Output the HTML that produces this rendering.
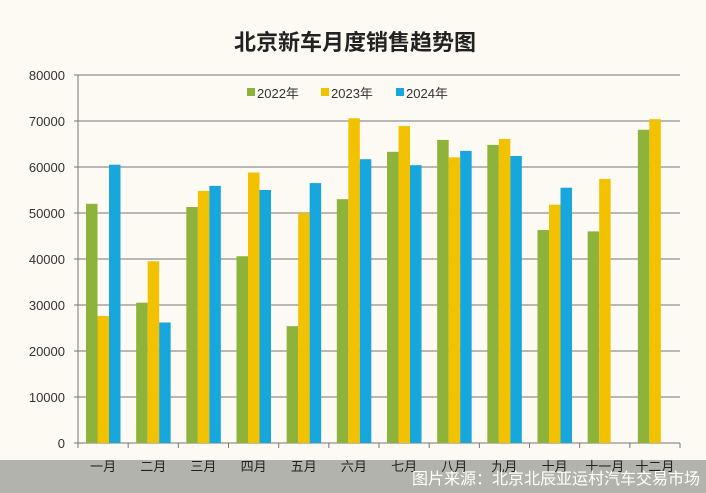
<!DOCTYPE html>
<html><head><meta charset="utf-8"><style>
html,body{margin:0;padding:0;background:#fcfaf3;}
svg{display:block;font-family:"Liberation Sans","Noto Sans CJK SC",sans-serif;}
</style></head><body>
<svg id="chart" width="706" height="493">
<rect x="0" y="0" width="706" height="493" fill="#fcfaf3"/>
<text x="355" y="50" text-anchor="middle" font-size="22" font-weight="bold" fill="#222" font-family="'Noto Sans CJK SC',sans-serif">北京新车月度销售趋势图</text>
<g id="grid"></g>
<g id="bars"></g>
<g>
<g><rect x="247" y="88" width="8" height="8" fill="#8db33a"/><text x="257" y="98" font-size="13" fill="#333">2022年</text></g>
<g><rect x="321" y="88" width="8" height="8" fill="#f2c200"/><text x="331" y="98" font-size="13" fill="#333">2023年</text></g>
<g><rect x="396" y="88" width="8" height="8" fill="#18a7dd"/><text x="406" y="98" font-size="13" fill="#333">2024年</text></g>
</g>
<rect x="0" y="460" width="706" height="33" fill="#a9a8a3" opacity="0.88"/>
<g id="xlabels"></g>
<text x="700" y="484" text-anchor="end" font-size="16" fill="#fff" font-family="'Noto Sans CJK SC',sans-serif">图片来源：北京北辰亚运村汽车交易市场</text>
</svg>
<script>
const categories=["一月","二月","三月","四月","五月","六月","七月","八月","九月","十月","十一月","十二月"];
const s2022=[52000,30500,51300,40600,25400,53000,63300,65900,64800,46300,46000,68100];
const s2023=[27600,39500,54800,58800,50000,70600,68900,62100,66100,51800,57400,70400];
const s2024=[60500,26200,55900,55000,56500,61700,60400,63500,62400,55500,null,null];
const yTicks=[0,10000,20000,30000,40000,50000,60000,70000,80000];
const colors=["#8db33a","#f2c200","#18a7dd"];
const NS="http://www.w3.org/2000/svg";
const x0=78,x1=680,yBase=443,yTop=75,yMax=80000;
const y=v=>yBase-(v/yMax)*(yBase-yTop);
const bw=(x1-x0)/categories.length;
const xc=i=>x0+bw*i;
function mk(tag,attrs,parent){const e=document.createElementNS(NS,tag);for(const k in attrs)e.setAttribute(k,attrs[k]);parent.appendChild(e);return e;}
const grid=document.getElementById('grid');
yTicks.forEach(t=>{
 const l=mk('line',{x1:x0-4,x2:x1,y1:y(t),y2:y(t),stroke:'#777','stroke-width':1},grid);
 
 
 const tx=mk('text',{x:x0-13,y:y(t)+5,'text-anchor':'end','font-size':13,fill:'#333'},grid);
 tx.textContent=t;
 
 
});
const ax=mk('line',{x1:x0,x2:x0,y1:yTop,y2:yBase,stroke:'#777'},grid);


for(let i=0;i<=categories.length;i++){
 const tk=mk('line',{x1:xc(i),x2:xc(i),y1:yBase,y2:yBase+5,stroke:'#777'},grid);
 
 
}
const bars=document.getElementById('bars');
const series=[s2022,s2023,s2024];
const barW=11.5;
categories.forEach((c,i)=>{
 series.forEach((s,j)=>{
  const v=s[i]; if(v==null) return;
  const r=mk('rect',{x:xc(i)+8+j*barW,y:y(v),width:barW,height:yBase-y(v),fill:colors[j]},bars);
  
  
 });
 const t=mk('text',{x:xc(i)+bw/2,y:471,'text-anchor':'middle','font-size':13,fill:'#222','font-family':"'Noto Sans CJK SC',sans-serif"},document.getElementById('xlabels'));
 t.textContent=c;
 
 
});
</script>
</body></html>
